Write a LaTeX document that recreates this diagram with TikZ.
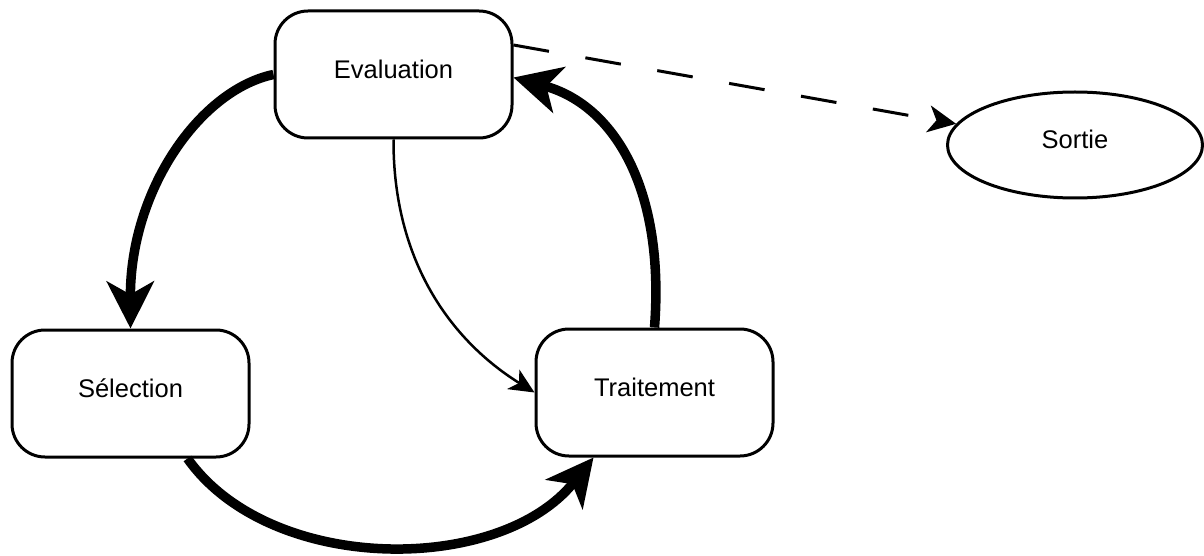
\documentclass[tikz,border=0pt]{standalone}
\usepackage{fontspec}
\setmainfont{Liberation Sans}
\usetikzlibrary{arrows.meta,shapes.geometric}
\begin{document}
\begin{tikzpicture}[x=1pt,y=-1pt,
  lbl/.style={font=\fontsize{25.5}{30}\selectfont,text height=18pt,text depth=10pt,inner sep=0pt},
  box/.style={lbl,draw,line width=3pt,rounded corners=33pt,minimum width=237pt,minimum height=127pt},
  oval/.style={lbl,ellipse,draw,line width=3pt,minimum width=255pt,minimum height=106pt},
  thickarrow/.style={line width=9.5pt,-{Stealth[length=47pt,width=47pt,inset=13pt]}},
  thinarrow/.style={line width=2.5pt,-{Stealth[length=25pt,width=23pt,inset=7pt]}},
  dasharrow/.style={line width=3pt,dash pattern=on 36pt off 37pt,-{Stealth[length=28pt,width=27pt,inset=8pt]}}]
\fill[white] (0,0) rectangle (1204,556);
\useasboundingbox (0,0) rectangle (1204,556);
\node[box] (eval) at (393.5,74.5) {Evaluation};
\node[box] (sel) at (130.5,393.5) {Sélection};
\node[box] (trait) at (654.5,392.5) {Traitement};
\node[oval] (sortie) at (1075,145) {Sortie};
\draw[thickarrow] (eval.west) .. controls (200,90) and (130,190) .. (sel.north);
\draw[thickarrow] ([xshift=57pt]sel.south) .. controls (270,575) and (500,575) .. ([xshift=-61pt]trait.south);
\draw[thickarrow] (trait.north) .. controls (665,190) and (615,105) .. ([yshift=-3pt]eval.east);
\draw[thinarrow] (eval.south) .. controls (393,260) and (450,340) .. (trait.west);
\draw[dasharrow] ([yshift=29.5pt]eval.east) -- (sortie);
\end{tikzpicture}
\end{document}
